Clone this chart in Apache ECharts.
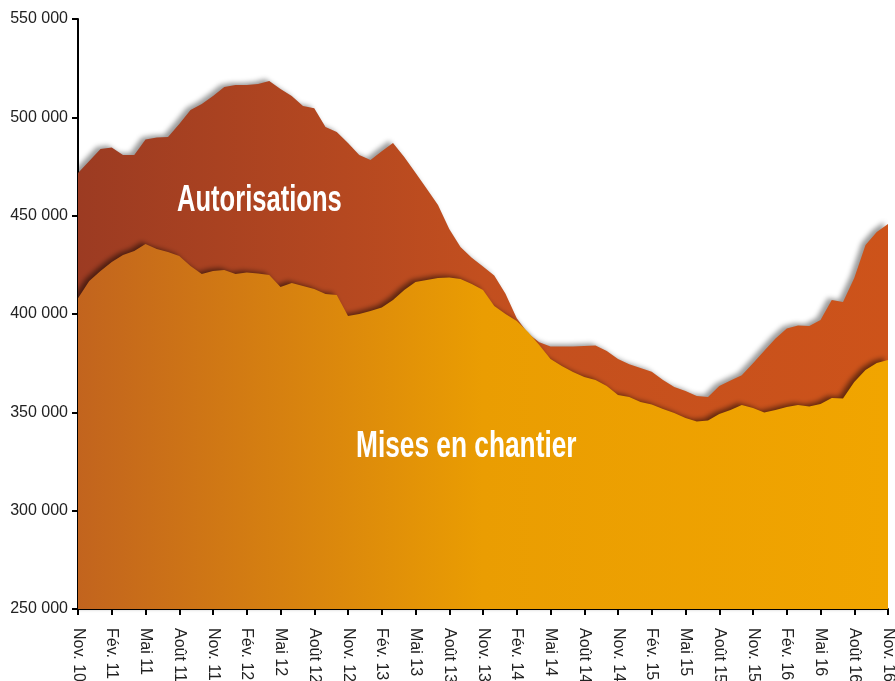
<!DOCTYPE html>
<html>
<head>
<meta charset="utf-8">
<script src="https://cdn.jsdelivr.net/npm/echarts@6/dist/echarts.min.js"></script>
<style>
html,body{margin:0;padding:0;background:#fff;}
#c{width:895px;height:681px;}
</style>
</head>
<body>
<div id="c"></div>
<script>
// Monthly categories, Nov. 10 .. Nov. 16
const months = ["Nov. 10","Déc. 10","Janv. 11","Fév. 11","Mars 11","Avr. 11","Mai 11","Juin 11","Juil. 11","Août 11","Sept. 11","Oct. 11",
"Nov. 11","Déc. 11","Janv. 12","Fév. 12","Mars 12","Avr. 12","Mai 12","Juin 12","Juil. 12","Août 12","Sept. 12","Oct. 12",
"Nov. 12","Déc. 12","Janv. 13","Fév. 13","Mars 13","Avr. 13","Mai 13","Juin 13","Juil. 13","Août 13","Sept. 13","Oct. 13",
"Nov. 13","Déc. 13","Janv. 14","Fév. 14","Mars 14","Avr. 14","Mai 14","Juin 14","Juil. 14","Août 14","Sept. 14","Oct. 14",
"Nov. 14","Déc. 14","Janv. 15","Fév. 15","Mars 15","Avr. 15","Mai 15","Juin 15","Juil. 15","Août 15","Sept. 15","Oct. 15",
"Nov. 15","Déc. 15","Janv. 16","Fév. 16","Mars 16","Avr. 16","Mai 16","Juin 16","Juil. 16","Août 16","Sept. 16","Oct. 16",
"Nov. 16"];

const autorisations = [471700,477800,483900,484700,480900,480900,488700,489800,490000,496600,503700,506800,
510900,515400,516500,516500,517000,518500,514400,510900,505800,504600,495100,492500,
487000,480900,478300,482700,487000,479800,471800,463700,455400,443200,434100,428600,
424100,419600,410300,397800,390100,385600,383500,383500,383500,383700,384000,381200,
377100,374400,372500,370600,366400,362900,360900,358300,357800,363400,366200,368800,
375000,381300,387600,392600,394200,393900,397000,407100,406100,418300,435100,441700,
445800];

const misesEnChantier = [408000,416800,421900,426400,430000,432000,435600,433100,431500,429500,424400,420300,
421900,422400,420300,421100,420600,419800,413700,415800,414300,412700,410200,409700,
399000,400000,401500,403300,407100,412200,416300,417300,418300,418600,417800,415300,
412200,404100,400000,396400,390900,384200,377100,373500,370500,368000,366400,363400,
358800,357800,355300,354000,351700,349700,347100,345300,345900,349200,351200,353700,
352200,349900,351200,352700,353700,353000,354200,357300,357000,365400,371500,375100,
376600];

const yTicks = [250000, 300000, 350000, 400000, 450000, 500000, 550000];

const chart = echarts.init(document.getElementById('c'));

function fmt(v){ return String(v).replace(/\B(?=(\d{3})+(?!\d))/g, ' '); }

const labelFont = 'Liberation Sans, Arial, sans-serif';

chart.setOption({
  animation: false,
  backgroundColor: '#ffffff',
  grid: {left: 78, right: 7, top: 19, bottom: 72, containLabel: false, outerBoundsMode: 'none'},
  xAxis: {
    type: 'category',
    data: months,
    boundaryGap: false,
    axisLine: {show: true, lineStyle: {color: '#000', width: 2}},
    axisTick: {show: true, interval: 2, length: 6, lineStyle: {color: '#000', width: 2}},
    axisLabel: {
      interval: 2, rotate: -90, margin: 19, color: '#222',
      fontFamily: labelFont, fontSize: 16, hideOverlap: false
    },
    splitLine: {show: false}
  },
  yAxis: {
    type: 'value',
    min: yTicks[0], max: yTicks[yTicks.length - 1], interval: 50000,
    axisLine: {show: true, lineStyle: {color: '#000', width: 2}},
    axisTick: {show: true, length: 6, lineStyle: {color: '#000', width: 2}},
    axisLabel: {
      margin: 10, color: '#222', fontFamily: labelFont, fontSize: 16,
      formatter: fmt
    },
    splitLine: {show: false}
  },
  series: [
    {
      name: 'Autorisations',
      type: 'line',
      data: autorisations,
      symbol: 'none',
      clip: false,
      lineStyle: {width: 0},
      z: 2,
      areaStyle: {
        origin: 'start',
        opacity: 1,
        color: new echarts.graphic.LinearGradient(0, 0, 1, 0, [
          {offset: 0, color: '#9C3B22'},
          {offset: 0.5, color: '#C24F1F'},
          {offset: 1, color: '#CD531A'}
        ]),
        shadowColor: 'rgba(0,0,0,0.4)',
        shadowBlur: 5,
        shadowOffsetX: -4,
        shadowOffsetY: -2
      }
    },
    {
      name: 'Mises en chantier',
      type: 'line',
      data: misesEnChantier,
      symbol: 'none',
      clip: false,
      lineStyle: {width: 0},
      z: 3,
      areaStyle: {
        origin: 'start',
        opacity: 1,
        color: new echarts.graphic.LinearGradient(0, 0, 1, 0, [
          {offset: 0, color: '#C2641E'},
          {offset: 0.5, color: '#EA9D02'},
          {offset: 1, color: '#F1A500'}
        ]),
        shadowColor: 'rgba(0,0,0,0.5)',
        shadowBlur: 5,
        shadowOffsetX: -4,
        shadowOffsetY: -2
      }
    }
  ],
  graphic: [
    {
      type: 'text', x: 177, y: 201, scaleX: 0.71, z: 10,
      style: {text: 'Autorisations', fill: '#fff', fontSize: 36, fontWeight: 'bold',
        fontFamily: 'Liberation Sans, Arial, sans-serif', verticalAlign: 'middle', align: 'left'}
    },
    {
      type: 'text', x: 356, y: 447, scaleX: 0.73, z: 10,
      style: {text: 'Mises en chantier', fill: '#fff', fontSize: 36, fontWeight: 'bold',
        fontFamily: 'Liberation Sans, Arial, sans-serif', verticalAlign: 'middle', align: 'left'}
    }
  ]
});
</script>
</body>
</html>
